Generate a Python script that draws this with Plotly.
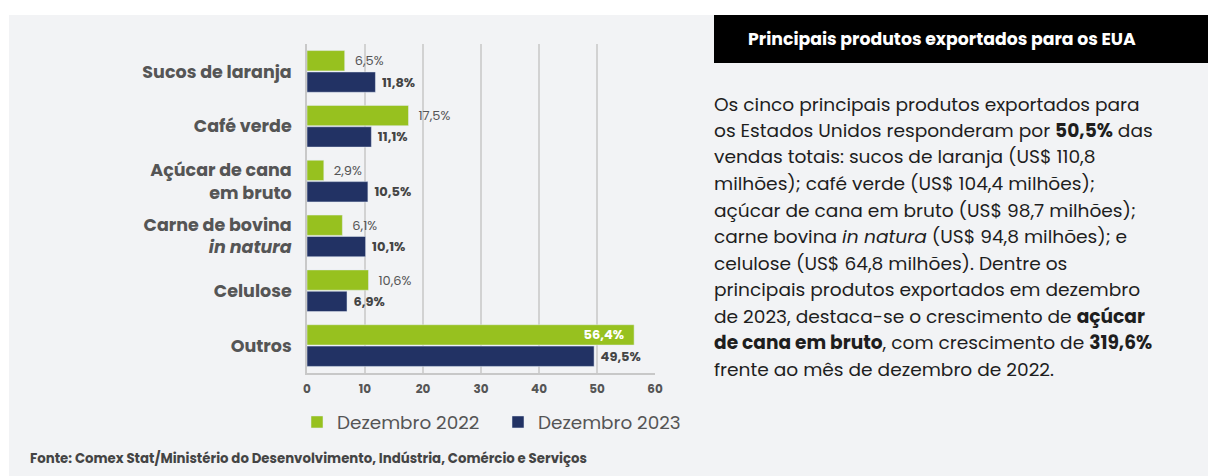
import plotly.graph_objects as go

W, H = 1208, 476

# data
categorias = [
    "Sucos de laranja",
    "Café verde",
    "Açúcar de cana<br>em bruto",
    "Carne de bovina<br><i>in natura</i>",
    "Celulose",
    "Outros",
]
dez_2022 = [6.5, 17.5, 2.9, 6.1, 10.6, 56.4]
dez_2023 = [11.8, 11.1, 10.5, 10.1, 6.9, 49.5]
x_ticks = [0, 10, 20, 30, 40, 50, 60]
serie_nomes = ["Dezembro 2022", "Dezembro 2023"]

titulo_box = "Principais produtos exportados para os EUA"
texto_linhas = [
    "Os cinco principais produtos exportados para",
    "os Estados Unidos responderam por <b>50,5%</b> das",
    "vendas totais: sucos de laranja (US$ 110,8",
    "milhões); café verde (US$ 104,4 milhões);",
    "açúcar de cana em bruto (US$ 98,7 milhões);",
    "carne bovina <i>in natura</i> (US$ 94,8 milhões); e",
    "celulose (US$ 64,8 milhões). Dentre os",
    "principais produtos exportados em dezembro",
    "de 2023, destaca-se o crescimento de <b>açúcar</b>",
    "<b>de cana em bruto</b>, com crescimento de <b>319,6%</b>",
    "frente ao mês de dezembro de 2022.",
]
fonte = "Fonte: Comex Stat/Ministério do Desenvolvimento, Indústria, Comércio e Serviços"

VERDE = "#97c11f"
AZUL = "#223264"
CINZA = "#555555"
FONTE = "Poppins, 'Open Sans', sans-serif"
NB = "\u00a0"


def px(x, y):
    # pixel position -> paper coords (margins are zero)
    return x / W, 1 - y / H


def fmt(v):
    return f"{v:.1f}".replace(".", ",") + "%"


# 2022 labels: outside, except the long bar that gets a white label inside
lim = 40
txt22, pos22 = [], []
for v in dez_2022:
    if v > lim:
        txt22.append("<b>" + fmt(v) + "</b>" + NB * 2)
        pos22.append("inside")
    else:
        txt22.append(NB * 2 + fmt(v))
        pos22.append("outside")
txt23 = [NB + "<b>" + fmt(v) + "</b>" for v in dez_2023]

fig = go.Figure()
fig.add_trace(go.Bar(
    y=categorias, x=dez_2022, name=serie_nomes[0], orientation="h",
    marker=dict(color=VERDE), text=txt22, textposition=pos22,
    insidetextanchor="end", constraintext="none", cliponaxis=False,
    textfont=dict(size=13, color=CINZA),
    insidetextfont=dict(size=13, color="white"),
    outsidetextfont=dict(size=13, color=CINZA),
    hoverinfo="skip",
))
fig.add_trace(go.Bar(
    y=categorias, x=dez_2023, name=serie_nomes[1], orientation="h",
    marker=dict(color=AZUL), text=txt23, textposition="outside",
    constraintext="none", cliponaxis=False,
    textfont=dict(size=13, color="#444444"),
    hoverinfo="skip",
))

x0, _ = px(307, 0)
x1, _ = px(655, 0)
_, y0 = px(0, 373)
_, y1 = px(0, 44)

# grey panel + black header box
shapes = [
    dict(type="rect", xref="paper", yref="paper", layer="below",
         x0=9 / W, x1=1.02, y0=-0.02, y1=1 - 15 / H,
         fillcolor="#f2f3f5", line=dict(width=0)),
    dict(type="rect", xref="paper", yref="paper", layer="below",
         x0=714 / W, x1=1.02, y0=1 - 63 / H, y1=1 - 15 / H,
         fillcolor="black", line=dict(width=0)),
]

annotations = [
    dict(text="<b>" + titulo_box + "</b>", xref="paper", yref="paper",
         x=746 / W, y=1 - 39 / H, xanchor="left", yanchor="middle",
         showarrow=False, font=dict(size=17.3, color="white")),
    dict(text="<b>" + fonte + "</b>", xref="paper", yref="paper",
         x=28 / W, y=1 - 458 / H, xanchor="left", yanchor="middle",
         showarrow=False, font=dict(size=13.3, color="#444444")),
]
for i, linha in enumerate(texto_linhas):
    annotations.append(dict(
        text=linha, xref="paper", yref="paper",
        x=712 / W, y=1 - (104 + i * 26.5) / H, xanchor="left", yanchor="middle",
        showarrow=False, font=dict(size=18.6, color="#1e1e1e"),
    ))

fig.update_layout(
    width=W, height=H,
    margin=dict(l=0, r=0, t=0, b=0, autoexpand=False),
    paper_bgcolor="white",
    plot_bgcolor="rgba(0,0,0,0)",
    font=dict(family=FONTE, color=CINZA),
    barmode="group",
    bargap=0.22,
    bargroupgap=0.05,
    xaxis=dict(
        domain=[x0, x1], range=[0, 60], tickvals=x_ticks,
        showgrid=True, gridcolor="#d2d2d2", gridwidth=1.5,
        zeroline=False, showline=True, linecolor="#c8c8c8", linewidth=1.5,
        tickfont=dict(size=12, color=CINZA, weight="bold"),
        ticks="", ticklabelstandoff=4, fixedrange=True,
    ),
    yaxis=dict(
        domain=[y0, y1], autorange="reversed", type="category",
        showline=True, linecolor="#c8c8c8", linewidth=1.5,
        showgrid=False, ticks="", ticklabelstandoff=10,
        tickfont=dict(size=17.5, color=CINZA, weight="bold"),
        fixedrange=True,
    ),
    legend=dict(
        orientation="h", x=297 / W, y=1 - 422 / H,
        xanchor="left", yanchor="middle",
        font=dict(size=18.4, color=CINZA),
        entrywidth=156, entrywidthmode="pixels",
        bgcolor="rgba(0,0,0,0)", traceorder="normal",
    ),
    shapes=shapes,
    annotations=annotations,
)

# drop the default page margin/scrollbars so the figure sits at the window origin
fig.write_html(
    "out.html",
    config={"displayModeBar": False},
    post_script=(
        "document.body.style.margin='0';"
        "document.body.style.overflow='hidden';"
        "document.documentElement.style.overflow='hidden';"
    ),
)
